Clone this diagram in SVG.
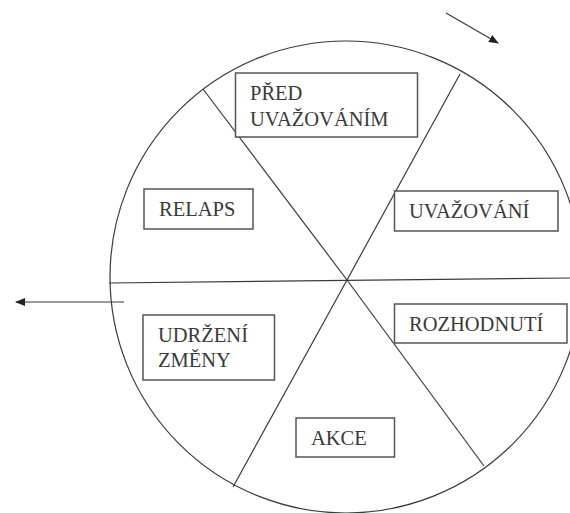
<svg xmlns="http://www.w3.org/2000/svg" width="570" height="513" viewBox="0 0 570 513">
<style>
.ln{stroke:#3a3a3a;stroke-width:1.2;fill:none}
.bx{stroke:#555;stroke-width:1.5;fill:#fff}
.t{font-family:"Liberation Serif","Times New Roman",serif;font-size:20.5px;fill:#3a3a3a}
</style>
<defs>
<marker id="ah" viewBox="0 0 10 10" refX="9" refY="5" markerWidth="10" markerHeight="10" markerUnits="userSpaceOnUse" orient="auto">
<path d="M0,1 L10,5 L0,9 Z" fill="#222"/>
</marker>
</defs>
<rect width="570" height="513" fill="#fff"/>
<g id="wheel">
<circle class="ln" cx="346" cy="277" r="236"/>
</g>
<g id="connectors">
<line class="ln" x1="203" y1="89" x2="347" y2="280"/>
<line class="ln" x1="460" y1="74" x2="347" y2="280"/>
<line class="ln" x1="109" y1="283" x2="570" y2="278"/>
<line class="ln" x1="233" y1="487" x2="347" y2="280"/>
<line class="ln" x1="484" y1="466" x2="347" y2="280"/>
<line class="ln" x1="446" y1="13" x2="498" y2="43" marker-end="url(#ah)"/>
<line class="ln" x1="124" y1="302" x2="16" y2="302" marker-end="url(#ah)"/>
</g>
<g id="pred">
<rect class="bx" x="235.5" y="73" width="182" height="64"/>
<text class="t" x="250" y="100">PŘED</text>
<text class="t" x="250" y="126">UVAŽOVÁNÍM</text>
</g>
<g id="relaps">
<rect class="bx" x="144" y="189" width="109" height="40"/>
<text class="t" x="159" y="216">RELAPS</text>
</g>
<g id="uvazovani">
<rect class="bx" x="394.5" y="191" width="163.5" height="40"/>
<text class="t" x="409" y="218">UVAŽOVÁNÍ</text>
</g>
<g id="rozhodnuti">
<rect class="bx" x="394.5" y="304" width="172.5" height="39"/>
<text class="t" x="409" y="331">ROZHODNUTÍ</text>
</g>
<g id="udrzeni">
<rect class="bx" x="143" y="315" width="131.5" height="65"/>
<text class="t" x="158" y="342">UDRŽENÍ</text>
<text class="t" x="158" y="367">ZMĚNY</text>
</g>
<g id="akce">
<rect class="bx" x="296" y="418" width="98.5" height="39"/>
<text class="t" x="311" y="445">AKCE</text>
</g>
</svg>
